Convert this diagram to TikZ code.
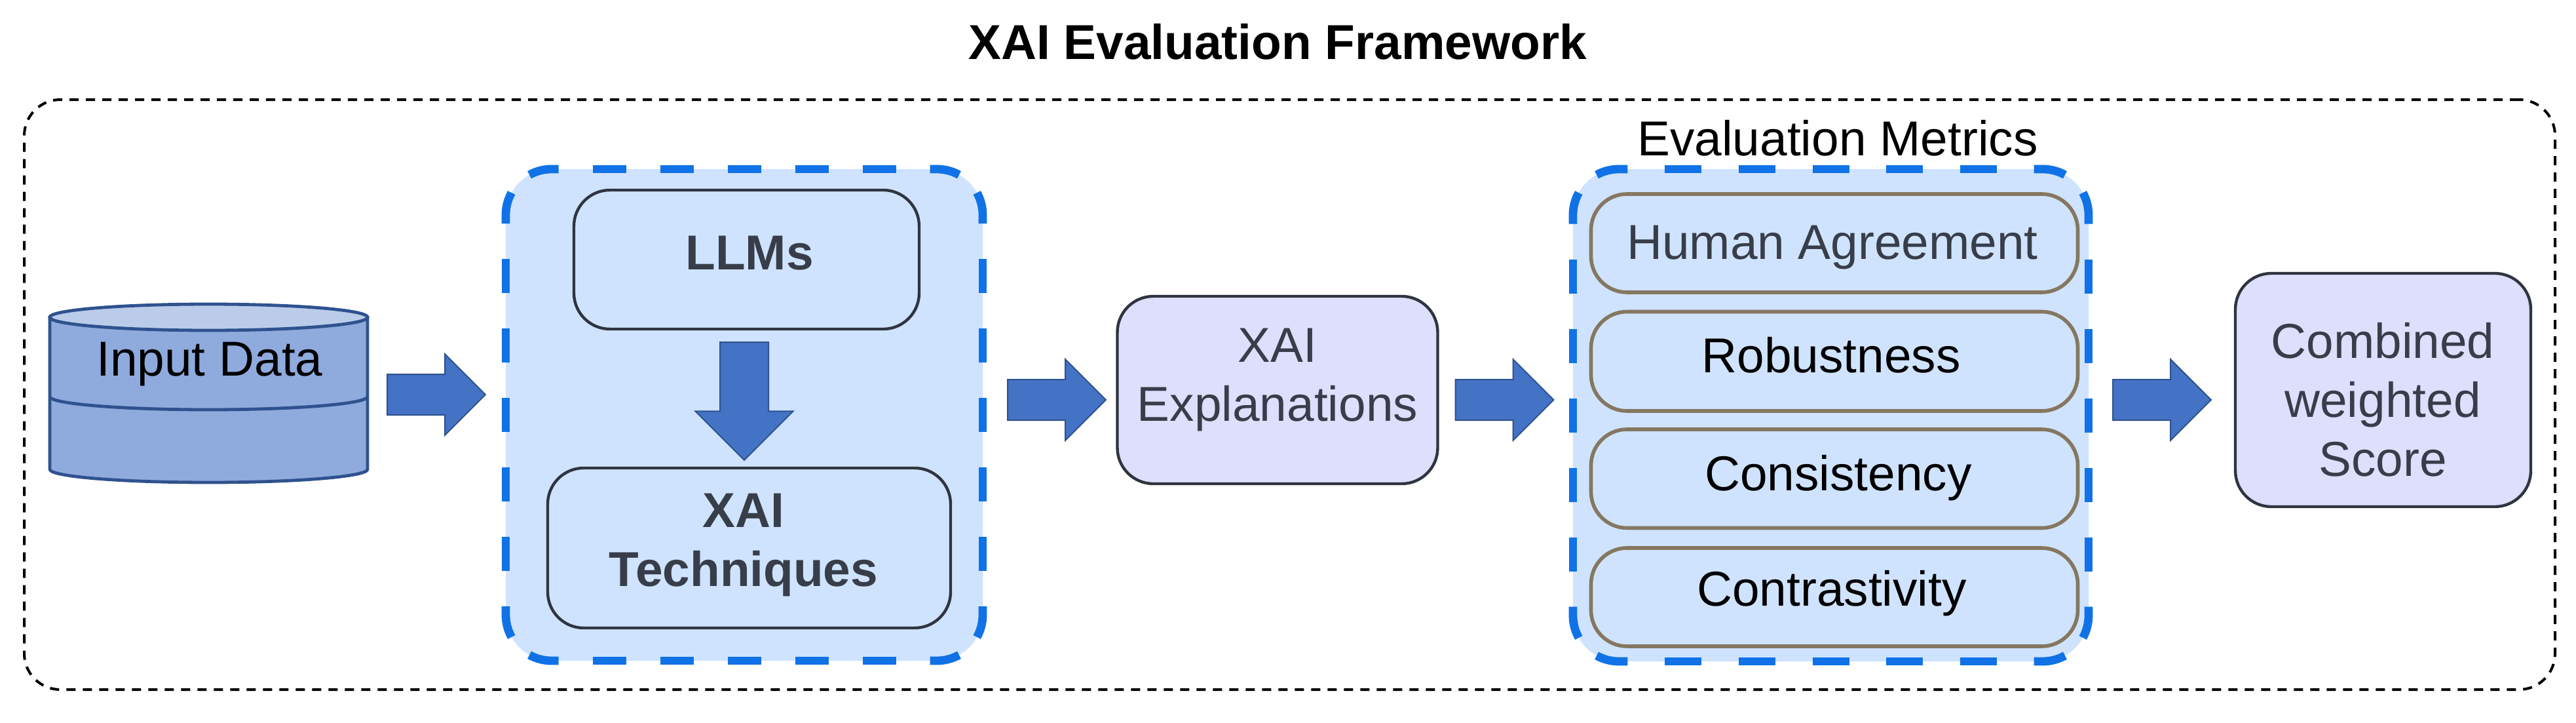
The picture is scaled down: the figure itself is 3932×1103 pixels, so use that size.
\documentclass[tikz,border=0pt]{standalone}
\usepackage{fontspec}
\setmainfont{Liberation Sans}
\usetikzlibrary{shapes.arrows}
\definecolor{grpfill}{HTML}{CFE3FF}
\definecolor{grpdash}{HTML}{1072E6}
\definecolor{boxdark}{HTML}{2F353F}
\definecolor{txtdark}{HTML}{383E49}
\definecolor{boxbrown}{HTML}{857760}
\definecolor{purplefill}{HTML}{DEDEFD}
\definecolor{arrowfill}{HTML}{4472C4}
\definecolor{arrowline}{HTML}{2F528F}
\definecolor{cylfill}{HTML}{8FAADC}
\definecolor{cyltop}{HTML}{BBCCEA}
\tikzset{
  rbox/.style={rectangle,rounded corners=13.75pt,inner sep=0pt,outer sep=0pt},
  innerbox/.style={rbox,draw=boxdark,line width=1.1pt,fill=grpfill},
  purplebox/.style={rbox,draw=boxdark,line width=1.1pt,fill=purplefill},
  metricbox/.style={rbox,draw=boxbrown,line width=1.4pt,fill=grpfill},
  groupbox/.style={rectangle,rounded corners=17.5pt,inner sep=0pt,outer sep=0pt,fill=grpfill},
  outerframe/.style={rectangle,rounded corners=13.75pt,inner sep=0pt,outer sep=0pt,draw=black,line width=1pt,dash pattern=on 3.5pt off 2.75pt},
  txt/.style={inner sep=0pt,outer sep=0pt,anchor=base,align=center,font=\fontsize{18.7}{22.4}\selectfont,text=black},
  txtd/.style={txt,text=txtdark},
  txtb/.style={txtd,font=\fontsize{18.7}{22.4}\selectfont\bfseries},
  blockarrow/.style={single arrow,draw=arrowline,fill=arrowfill,line width=0.5pt,inner xsep=0pt,inner ysep=7.5pt,outer sep=0pt,
    minimum height=37.5pt,single arrow head extend=7.75pt,single arrow tip angle=90,anchor=tip},
  grpdashline/.style={draw=grpdash,line width=3.2pt,line cap=butt},
  cylline/.style={draw=arrowline,line width=1.2pt}
}
% name, left, top, right, bottom, style, 
\newcommand{\placebox}[6]{\node[#6,minimum width={(#4-#2)*0.25pt},minimum height={(#5-#3)*0.25pt}] (#1) at ({(#2+#4)/2},{(#3+#5)/2}) {};}
% left, top, right, bottom, horizontal period, horizontal dash
\newcommand{\dashframe}[6]{%
  \pgfmathsetmacro{\cx}{(#1+#3)/2}\pgfmathsetmacro{\cy}{(#2+#4)/2}%
  \foreach \k in {-2,-1,0,1,2}{%
    \path[grpdashline] ({\cx+\k*#5-#6/2},#2) -- ({\cx+\k*#5+#6/2},#2);
    \path[grpdashline] ({\cx+\k*#5-#6/2},#4) -- ({\cx+\k*#5+#6/2},#4);
    \path[grpdashline] (#1,{\cy+\k*106-26}) -- (#1,{\cy+\k*106+26});
    \path[grpdashline] (#3,{\cy+\k*106-26}) -- (#3,{\cy+\k*106+26});
  }%
  \path[grpdashline] ({\cx-3*#5+#6/2},#2) -- ({#1+70},#2) arc[start angle=270,end angle=241,radius=70];
  \path[grpdashline] (#1,{\cy-3*106+26}) -- (#1,{#2+70}) arc[start angle=180,end angle=209,radius=70];
  \path[grpdashline] ({\cx+3*#5-#6/2},#2) -- ({#3-70},#2) arc[start angle=270,end angle=299,radius=70];
  \path[grpdashline] (#3,{\cy-3*106+26}) -- (#3,{#2+70}) arc[start angle=0,end angle=-29,radius=70];
  \path[grpdashline] ({\cx-3*#5+#6/2},#4) -- ({#1+70},#4) arc[start angle=90,end angle=119,radius=70];
  \path[grpdashline] (#1,{\cy+3*106-26}) -- (#1,{#4-70}) arc[start angle=180,end angle=151,radius=70];
  \path[grpdashline] ({\cx+3*#5-#6/2},#4) -- ({#3-70},#4) arc[start angle=90,end angle=61,radius=70];
  \path[grpdashline] (#3,{\cy+3*106-26}) -- (#3,{#4-70}) arc[start angle=0,end angle=29,radius=70];
}
\begin{document}
\begin{tikzpicture}[x=0.25pt,y=-0.25pt]
\useasboundingbox (0,0) rectangle (3932,1103);
\fill[white] (0,0) rectangle (3932,1103);
\node[txt,font=\fontsize{18.7}{22.4}\selectfont\bfseries] (title) at (1950,91) {XAI Evaluation Framework};
\placebox{frame}{37}{152}{3900}{1052}{outerframe}

% database
\path[fill=cylfill,cylline] (76,484) -- (76,716) arc[start angle=180,end angle=0,x radius=242.5,y radius=20] -- (561,484) -- cycle;
\path[cylline] (76,605) arc[start angle=180,end angle=0,x radius=242.5,y radius=20];
\path[fill=cyltop,cylline] (318.5,484) ellipse[x radius=242.5,y radius=20];
\node[txt] (input) at (320,573) {Input Data};

% first group
\placebox{gone}{772}{258}{1500}{1008}{groupbox}
\dashframe{772}{258}{1500}{1008}{103}{51}
\placebox{llmbox}{876}{290}{1403}{502}{innerbox}
\node[txtb] (llm) at (1144,411) {LLMs};
\placebox{techbox}{836}{714}{1451}{958}{innerbox}
\node[txtb] (tech) at (1135,894) {XAI\\Techniques};
\node[blockarrow,rotate=-90,minimum height=45pt,inner ysep=9pt,single arrow head extend=9.4pt] (adown) at (1136,702) {};

% explanations
\placebox{expl}{1705.5}{452}{2194.5}{738}{purplebox}
\node[txtd] (expltext) at (1950,642) {XAI\\Explanations};

% metrics group
\node[txt] (mtitle) at (2805,237) {Evaluation Metrics};
\placebox{gtwo}{2401}{258}{3188}{1009}{groupbox}
\dashframe{2401}{258}{3188}{1009}{112.7}{56}
\placebox{mone}{2428.5}{296}{3171.5}{446}{metricbox}
\placebox{mtwo}{2428.5}{475.5}{3171.5}{627}{metricbox}
\placebox{mthree}{2428.5}{655}{3171.5}{805.5}{metricbox}
\placebox{mfour}{2428.5}{836}{3171.5}{986}{metricbox}
\node[txtd] (human) at (2797,395) {Human Agreement};
\node[txt] (rob) at (2795,568) {Robustness};
\node[txt] (cons) at (2806,748) {Consistency};
\node[txt] (contr) at (2796,924) {Contrastivity};

% score
\placebox{score}{3412}{417}{3863}{773}{purplebox}
\node[txtd] (scoretext) at (3637,726) {Combined\\weighted\\Score};

% block arrows
\node[blockarrow] (aone) at (741,602) {};
\node[blockarrow] (atwo) at (1688,610) {};
\node[blockarrow] (athree) at (2371.5,610) {};
\node[blockarrow] (afour) at (3375,610) {};
\end{tikzpicture}
\end{document}
